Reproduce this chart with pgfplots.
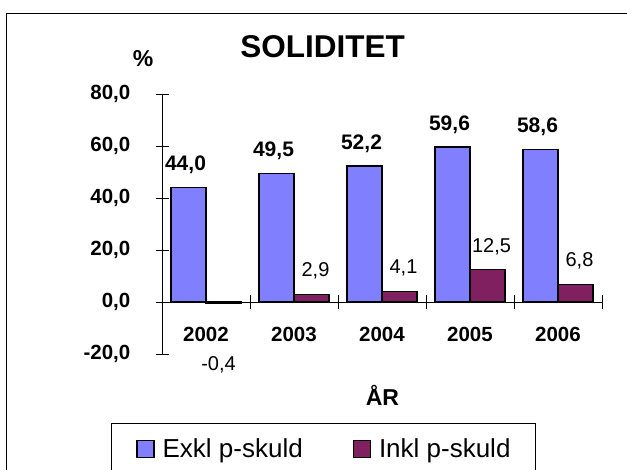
\documentclass[border=0pt]{standalone}
\usepackage{pgfplots}
\pgfplotsset{compat=1.18}
\usepackage{fontspec}
\setmainfont{Liberation Sans}
\definecolor{exklblue}{RGB}{128,128,255}
\definecolor{inklpurple}{RGB}{128,32,96}

\begin{document}
\begin{tikzpicture}
\useasboundingbox (0pt,0pt) rectangle (627pt,-469pt);
\clip (0pt,0pt) rectangle (627pt,-469pt);
% outer frame
\draw[line width=1pt] (6pt,-13pt) rectangle (660pt,-500pt);
\begin{axis}[
  at={(162pt,-354pt)}, anchor=south west,
  scale only axis, width=440pt, height=260pt,
  xmin=-0.5, xmax=4.5, ymin=-20, ymax=80,
  axis y line=left, axis x line=middle,
  axis line style={-, line width=0.9pt, black},
  ytick={-20,0,20,40,60,80},
  ytick align=center, major tick length=13pt,
  every tick/.style={black, line width=0.9pt},
  yticklabel={\pgfmathprintnumber[fixed,fixed zerofill,precision=1,use comma,assume math mode=true]{\tick}},
  yticklabel style={font=\fontsize{20.5}{24}\selectfont\bfseries, anchor=east, inner sep=0pt, xshift=-25pt},
  xtick={0,1,2,3,4},
  xticklabels={2002,2003,2004,2005,2006},
  major x tick style={draw=none},
  xticklabel style={font=\fontsize{20.5}{24}\selectfont\bfseries, anchor=base, inner sep=0pt, yshift=-26pt},
  extra x ticks={0.5,1.5,2.5,3.5,4.5},
  extra x tick labels={},
  extra x tick style={major x tick style={draw=black, line width=0.9pt}, xtick align=center, major tick length=14pt},
  ybar=0pt, bar width=35pt,
  nodes near coords={\pgfmathprintnumber[fixed,fixed zerofill,precision=1,use comma,assume math mode=true]{\pgfplotspointmeta}},
  legend style={at={(-0.1159,-0.2654)}, anchor=north west,
    legend columns=2, draw=black, line width=0.9pt,
    font=\fontsize{26}{30}\selectfont, inner xsep=25pt, inner ysep=15pt,
    nodes={inner sep=0pt},
    /tikz/every odd column/.append style={column sep=8pt},
    /tikz/every even column/.append style={column sep=50pt}},
  legend image code/.code={\draw[#1, line width=1.2pt] (0pt,-8.5pt) rectangle (17pt,8.5pt);},
  clip=false,
]
\addplot[fill=exklblue, draw=black, line width=1.6pt,
  every node near coord/.append style={font=\fontsize{21}{24}\selectfont\bfseries, anchor=base, inner sep=0pt, yshift=17pt, xshift=-3pt}]
  coordinates {(0,44.0) (1,49.5) (2,52.2) (3,59.6) (4,58.6)};
\addplot[fill=inklpurple, draw=black, line width=1.6pt,
  visualization depends on={y \as \rawy},
  every node near coord/.append style={font=\fontsize{20}{24}\selectfont, anchor=base, inner sep=0pt,
    yshift={ifthenelse(\rawy<0,-67,17.5)}, xshift={ifthenelse(\rawy<0,-5,4)}}]
  coordinates {(0,-0.4) (1,2.9) (2,4.1) (3,12.5) (4,6.8)};
\legend{Exkl p-skuld, Inkl p-skuld}
\end{axis}
\node[font=\fontsize{31.5}{36}\selectfont\bfseries] at (322.5pt,-47pt) {SOLIDITET};
\node[font=\fontsize{23}{26}\selectfont\bfseries] at (143pt,-59pt) {\%};
\node[font=\fontsize{23}{26}\selectfont\bfseries, anchor=base] at (382.5pt,-405pt) {ÅR};
\end{tikzpicture}
\end{document}
